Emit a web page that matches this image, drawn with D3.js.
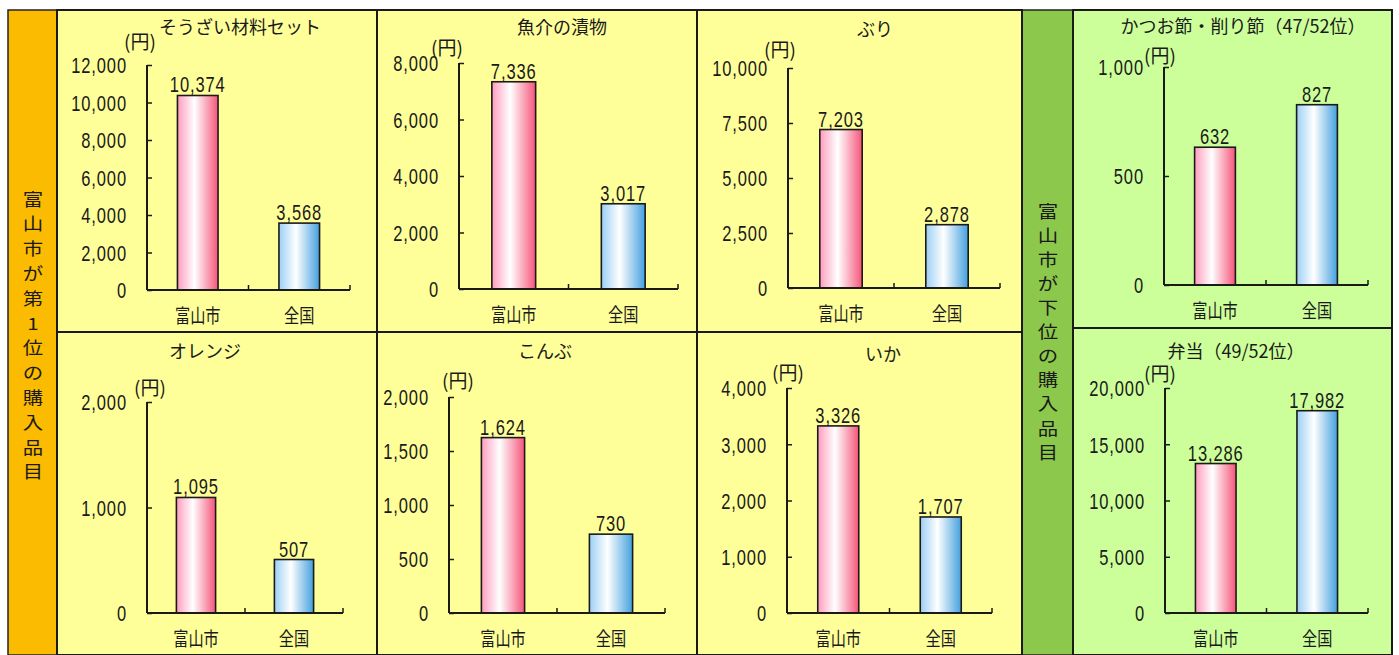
<!DOCTYPE html>
<html><head><meta charset="utf-8">
<script src="https://cdn.jsdelivr.net/npm/d3@7"></script>
<style>
html,body{margin:0;padding:0;background:#fff;}
svg{display:block;}
.num{font-family:"Liberation Sans",Arial,sans-serif;fill:#1a1a1a;letter-spacing:1.2px;}
.jp{font-family:"Noto Sans CJK JP","Noto Sans",sans-serif;fill:#1a1a1a;}
</style></head>
<body>
<script>
// ---- data ----
const titles = ["そうざい材料セット","魚介の漬物","ぶり","かつお節・削り節（47/52位）","オレンジ","こんぶ","いか","弁当（49/52位）"];
const categories = ["富山市","全国"];
const toyamaValues = [10374, 7336, 7203, 632, 1095, 1624, 3326, 13286];
const nationalValues = [3568, 3017, 2878, 827, 507, 730, 1707, 17982];
const yMax = [12000, 8000, 10000, 1000, 2000, 2000, 4000, 20000];
const yTickStep = [2000, 2000, 2500, 500, 1000, 500, 1000, 5000];
const unitLabel = "(円)";
const sideLabelTop = "富山市が第1位の購入品目";
const sideLabelLow = "富山市が下位の購入品目";

// ---- layout (positions only) ----
const W = 1399, H = 655;
const NUM_SX = 0.75, NUM_FS = 22, CAT_SX = 0.8, CAT_FS = 19;
const panelRects = [
  [57,10,320,322],[377,10,320,322],[697,10,325,322],[1073,10,319,318],
  [57,332,320,323],[377,332,320,323],[697,332,325,323],[1073,328,319,327]
];
// plot area: x0, x1, yTop, yZero
const plotBoxes = [
  [147,350,65,290],[459,678,63,289],[788,1000,68,288],[1164,1368,67,285],
  [147,343,402,613],[449,665,397,613],[787,992,388,613],[1165,1368,388,613]
];
const titlePos = [[240,34],[562,34],[875,36],[1243,33],[205,358],[545,358],[883,361],[1236,358]];
const unitPos = [[140,49],[447,55],[780,57],[1160,63],[150,395],[458,388],[788,380],[1160,381]];

const svg = d3.select("body").append("svg").attr("width",W).attr("height",H);
const defs = svg.append("defs");
function grad(id, c1, c2){
  const g = defs.append("linearGradient").attr("id",id).attr("x1","0%").attr("x2","100%");
  g.append("stop").attr("offset","0%").attr("stop-color",c1);
  g.append("stop").attr("offset","42%").attr("stop-color","#ffffff");
  g.append("stop").attr("offset","100%").attr("stop-color",c2);
}
grad("gPink","#ff9cbd","#f5557a");
grad("gBlue","#9ccff5","#44a0de");

svg.append("rect").attr("x",8).attr("y",10).attr("width",49).attr("height",H-10).attr("fill","#fbbb00").attr("stroke","#222").attr("stroke-width",1.5);
svg.append("rect").attr("x",1022).attr("y",10).attr("width",51).attr("height",H-10).attr("fill","#8cc84b").attr("stroke","#222").attr("stroke-width",1.5);

panelRects.forEach((r,i)=>{
  svg.append("rect").attr("x",r[0]).attr("y",r[1]).attr("width",r[2]).attr("height",r[3])
    .attr("fill", i===3||i===7 ? "#ccff99" : "#ffff99")
    .attr("stroke","#1a1a1a").attr("stroke-width",2);
});

function vertical(text, cx, y0, step){
  svg.append("g").selectAll("text").data(Array.from(text)).join("text")
    .attr("class","jp")
    .attr("transform",(d,i)=>`translate(${cx},${y0+i*step}) scale(1.2,1)`)
    .attr("text-anchor","middle").attr("dominant-baseline","central")
    .style("font-size","17px").text(d=>d);
}
vertical(sideLabelTop, 33, 198, 24.8);
vertical(sideLabelLow, 1048, 210, 24.1);

const fmt = d3.format(",");

titles.forEach((t,i)=>{
  const [x0,x1,yT,y0] = plotBoxes[i];
  const g = svg.append("g");
  const x = d3.scaleBand().domain(categories).range([x0,x1]).paddingInner(0.6).paddingOuter(0.3);
  const y = d3.scaleLinear().domain([0,yMax[i]]).range([y0,yT]);
  const vals = [toyamaValues[i], nationalValues[i]];

  g.append("text").attr("class","jp").attr("x",titlePos[i][0]).attr("y",titlePos[i][1])
    .attr("text-anchor","middle").style("font-size","18px").text(t);
  g.append("text").attr("class","jp").attr("x",unitPos[i][0]).attr("y",unitPos[i][1])
    .attr("text-anchor","middle").style("font-size","19px").text(unitLabel);

  g.selectAll("rect.bar").data(vals).join("rect").attr("class","bar")
    .attr("x",(d,j)=>x(categories[j])).attr("width",x.bandwidth())
    .attr("y",d=>y(d)).attr("height",d=>y(0)-y(d))
    .attr("fill",(d,j)=>j===0?"url(#gPink)":"url(#gBlue)")
    .attr("stroke","#1a1a1a").attr("stroke-width",1.6);

  g.selectAll("text.val").data(vals).join("text").attr("class","num val")
    .attr("transform",(d,j)=>`translate(${x(categories[j])+x.bandwidth()/2},${y(d)-3}) scale(${NUM_SX},1)`)
    .attr("text-anchor","middle").style("font-size",NUM_FS+"px").text(d=>fmt(d));

  const ticks = d3.range(0, yMax[i]+1e-9, yTickStep[i]);
  const ya = d3.axisLeft(y).tickValues(ticks).tickSize(-5).tickPadding(20).tickFormat(fmt);
  const yg = g.append("g").attr("transform",`translate(${x0},0)`).call(ya);
  yg.select(".domain").attr("stroke","#1a1a1a").attr("stroke-width",2).attr("d",`M0,${yT}V${y0}`);
  yg.selectAll(".tick line").attr("stroke","#1a1a1a").attr("stroke-width",1.5);
  yg.selectAll(".tick text").attr("class","num").attr("fill","#1a1a1a")
    .style("font-size",NUM_FS+"px").attr("font-family",null)
    .attr("x",-20/NUM_SX).attr("dy","0.36em").attr("transform",`scale(${NUM_SX},1)`);

  const xa = d3.axisBottom(x).tickSize(0).tickPadding(16);
  const xg = g.append("g").attr("transform",`translate(0,${y0})`).call(xa);
  xg.select(".domain").attr("stroke","#1a1a1a").attr("stroke-width",2).attr("d",`M${x0},0H${x1}`);
  xg.selectAll(".tick text").attr("class","jp").attr("fill","#1a1a1a")
    .style("font-size",CAT_FS+"px").attr("font-family",null)
    .attr("dy","0.9em").attr("transform",`scale(${CAT_SX},1)`);
  const bounds = [x0+(x1-x0)/2, x1];
  xg.selectAll("line.bt").data(bounds).join("line").attr("class","bt")
    .attr("x1",d=>d).attr("x2",d=>d).attr("y1",0).attr("y2",-5)
    .attr("stroke","#1a1a1a").attr("stroke-width",1.5);
});
</script>
</body></html>
